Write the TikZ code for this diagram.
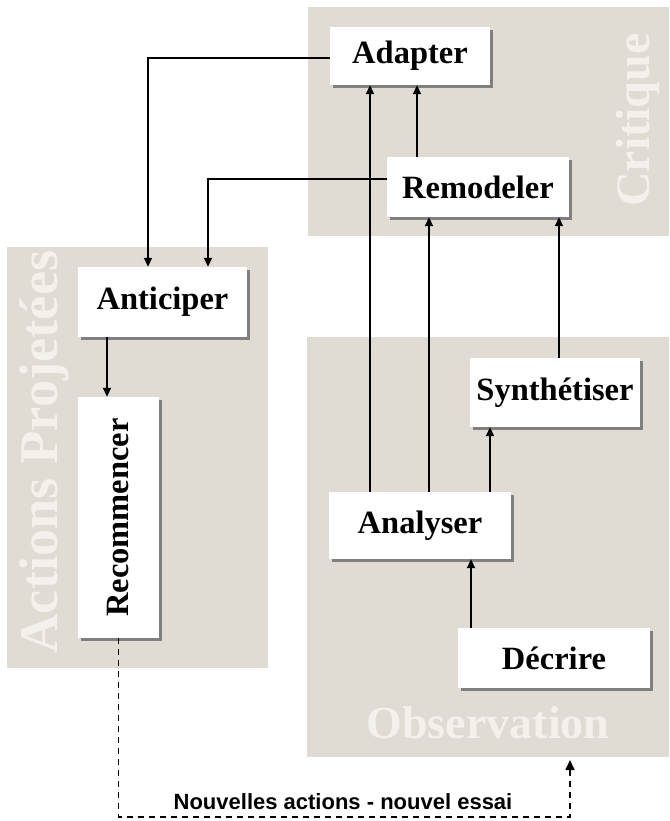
\documentclass[tikz,border=0pt]{standalone}
\usepackage{fontspec}
\setmainfont{Liberation Serif}
\newfontfamily\labelsans{Liberation Sans}
\usetikzlibrary{arrows.meta,calc}
\definecolor{panelfill}{RGB}{224,219,211}
\definecolor{paneltext}{RGB}{244,241,237}
\definecolor{shadowgray}{RGB}{128,128,128}
\begin{document}
\begin{tikzpicture}[x=1pt,y=-1pt,
  panel/.style={fill=panelfill,draw=none,inner sep=0pt,anchor=north west},
  paneltitle/.style={text=paneltext,font=\bfseries\fontsize{48}{48}\selectfont,inner sep=0pt},
  boxfont/.style={font=\bfseries\fontsize{32.5}{32.5}\selectfont},
  box/.style={fill=white,draw=none,inner sep=0pt,boxfont},
  conn/.style={line width=1.8pt,-{Triangle[length=9pt,width=8pt]}},
  dconn/.style={line width=1.7pt,dash pattern=on 6pt off 5pt,-{Triangle[length=10pt,width=9pt]}}
]
\useasboundingbox (0,0) rectangle (669,821);
\fill[white] (0,0) rectangle (669,821);

% panels
\node[panel,minimum width=361pt,minimum height=229pt] (pcrit) at (308,7) {};
\node[panel,minimum width=261pt,minimum height=421pt] (pact) at (7,247) {};
\node[panel,minimum width=362pt,minimum height=420pt] (pobs) at (307,337) {};

\node[paneltitle,rotate=90] (tcrit) at (638,120) {Critique};
\node[paneltitle,rotate=90,font=\bfseries\fontsize{54.5}{54.5}\selectfont] (tact) at (44,452) {Actions Projetées};
\node[paneltitle,font=\bfseries\fontsize{46}{46}\selectfont] (tobs) at (488,723) {Observation};

% shadows
\foreach \cx/\cy/\w/\h in {410/56/160/58, 478/187/182/60, 162.5/302/169/70, 118.5/517.5/81/241,
  555/392.5/170/69, 420/525.5/182/67, 554/658/192/60}{
  \fill[shadowgray] (\cx-\w/2+3,\cy-\h/2+3) rectangle (\cx+\w/2+3,\cy+\h/2+3);
}

% boxes
\node[box,minimum width=160pt,minimum height=58pt] (adapter) at (410,56) {Adapter};
\node[box,minimum width=182pt,minimum height=60pt] (remodeler) at (478,187) {Remodeler};
\node[box,minimum width=169pt,minimum height=70pt] (anticiper) at (162.5,302) {Anticiper};
\node[box,minimum width=81pt,minimum height=241pt] (recommencer) at (118.5,517.5) {};
\node[boxfont,rotate=90,inner sep=0pt] (rectext) at (recommencer.center) {Recommencer};
\node[box,minimum width=170pt,minimum height=69pt] (synth) at (555,392.5) {Synthétiser};
\node[box,minimum width=182pt,minimum height=67pt] (analyser) at (420,525.5) {Analyser};
\node[box,minimum width=192pt,minimum height=60pt] (decrire) at (554,658) {Décrire};

% connectors
\draw[conn] ([yshift=-2pt]adapter.west) -| ([xshift=-14.5pt]anticiper.north);
\draw[conn] ([yshift=8pt]remodeler.west) -| ([xshift=45.5pt]anticiper.north);
\draw[conn] ([xshift=-55.5pt]anticiper.south) -- ([xshift=-11.5pt]recommencer.north);
\draw[conn] ([xshift=-50pt]analyser.north) -- ([xshift=-50pt]analyser.north |- adapter.south);
\draw[conn] ([xshift=9pt]analyser.north) -- ([xshift=9pt]analyser.north |- remodeler.south);
\draw[conn] ([xshift=-61pt]remodeler.north) -- ([xshift=-61pt]remodeler.north |- adapter.south);
\draw[conn] ([xshift=4pt]synth.north) -- ([xshift=4pt]synth.north |- remodeler.south);
\draw[conn] ([xshift=70pt]analyser.north) -- ([xshift=70pt]analyser.north |- synth.south);
\draw[conn] ([xshift=-83pt]decrire.north) -- ([xshift=-83pt]decrire.north |- analyser.south);

\coordinate (corner) at (118.5,817);
\coordinate (obsin) at (570,760);
\draw[dconn] (recommencer.south) -- (corner) -| (obsin);
\node[font=\labelsans\bfseries\fontsize{22}{22}\selectfont,inner sep=0pt] (nlabel) at (343,802) {Nouvelles actions - nouvel essai};
\end{tikzpicture}
\end{document}
